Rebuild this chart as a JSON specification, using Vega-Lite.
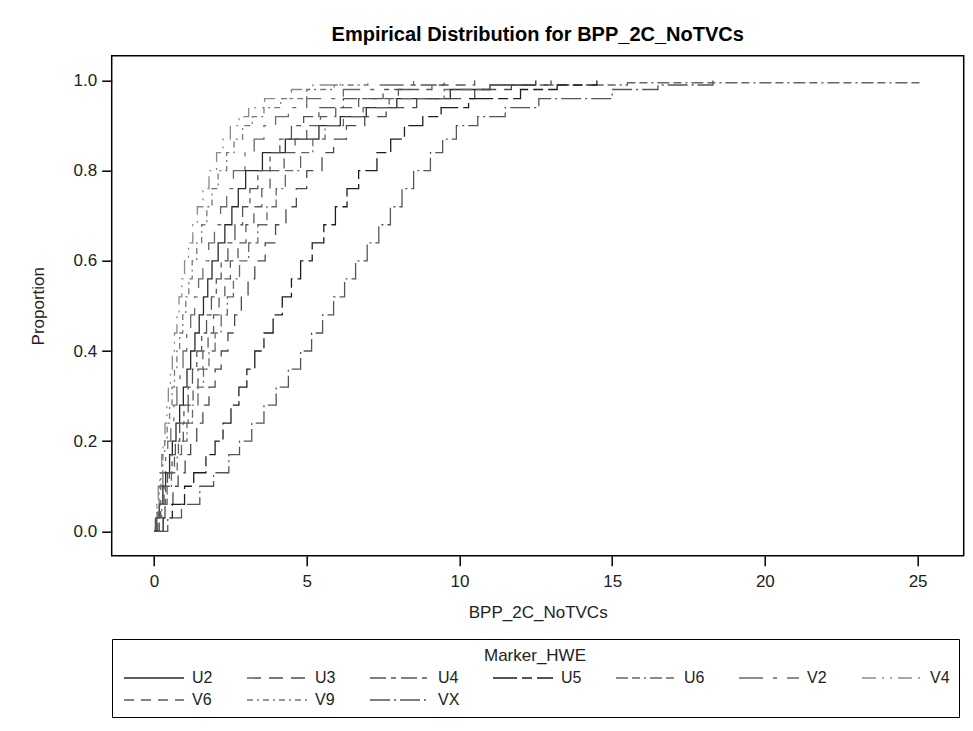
{
  "$schema": "https://vega.github.io/schema/vega-lite/v6.json",
  "width": 852,
  "height": 500,
  "autosize": "none",
  "padding": {"left": 111.7, "top": 55.7, "right": 9.3, "bottom": 175.3},
  "background": "white",
  "title": {"text": "Empirical Distribution for BPP_2C_NoTVCs", "font": "Liberation Sans", "fontSize": 20, "fontWeight": "bold", "color": "#000", "anchor": "middle", "offset": 11},
  "data": {"values": [
    {"m":"V4","x":0,"p":0},{"m":"V4","x":0.04,"p":0.03},{"m":"V4","x":0.09,"p":0.06},{"m":"V4","x":0.14,"p":0.1},{"m":"V4","x":0.19,"p":0.13},{"m":"V4","x":0.25,"p":0.17},{"m":"V4","x":0.3,"p":0.2},{"m":"V4","x":0.36,"p":0.24},{"m":"V4","x":0.42,"p":0.28},{"m":"V4","x":0.47,"p":0.32},{"m":"V4","x":0.54,"p":0.36},{"m":"V4","x":0.6,"p":0.4},{"m":"V4","x":0.67,"p":0.44},{"m":"V4","x":0.75,"p":0.48},{"m":"V4","x":0.82,"p":0.52},{"m":"V4","x":0.91,"p":0.56},{"m":"V4","x":1.0,"p":0.6},{"m":"V4","x":1.13,"p":0.64},{"m":"V4","x":1.27,"p":0.68},{"m":"V4","x":1.42,"p":0.72},{"m":"V4","x":1.6,"p":0.76},{"m":"V4","x":1.8,"p":0.8},{"m":"V4","x":2.05,"p":0.84},{"m":"V4","x":2.26,"p":0.87},{"m":"V4","x":2.5,"p":0.9},{"m":"V4","x":2.78,"p":0.92},{"m":"V4","x":3.1,"p":0.94},{"m":"V4","x":3.62,"p":0.96},{"m":"V4","x":4.5,"p":0.98},{"m":"V4","x":5.2,"p":0.99},{"m":"V4","x":6.1,"p":1.0},
    {"m":"V9","x":0,"p":0},{"m":"V9","x":0.05,"p":0.03},{"m":"V9","x":0.1,"p":0.06},{"m":"V9","x":0.17,"p":0.1},{"m":"V9","x":0.22,"p":0.13},{"m":"V9","x":0.29,"p":0.17},{"m":"V9","x":0.35,"p":0.2},{"m":"V9","x":0.43,"p":0.24},{"m":"V9","x":0.51,"p":0.28},{"m":"V9","x":0.59,"p":0.32},{"m":"V9","x":0.67,"p":0.36},{"m":"V9","x":0.75,"p":0.4},{"m":"V9","x":0.84,"p":0.44},{"m":"V9","x":0.94,"p":0.48},{"m":"V9","x":1.04,"p":0.52},{"m":"V9","x":1.14,"p":0.56},{"m":"V9","x":1.25,"p":0.6},{"m":"V9","x":1.4,"p":0.64},{"m":"V9","x":1.56,"p":0.68},{"m":"V9","x":1.73,"p":0.72},{"m":"V9","x":1.9,"p":0.76},{"m":"V9","x":2.1,"p":0.8},{"m":"V9","x":2.38,"p":0.84},{"m":"V9","x":2.62,"p":0.87},{"m":"V9","x":2.9,"p":0.9},{"m":"V9","x":3.22,"p":0.92},{"m":"V9","x":3.6,"p":0.94},{"m":"V9","x":4.15,"p":0.96},{"m":"V9","x":5.0,"p":0.98},{"m":"V9","x":5.9,"p":0.99},{"m":"V9","x":7.0,"p":1.0},
    {"m":"V2","x":0,"p":0},{"m":"V2","x":0.06,"p":0.03},{"m":"V2","x":0.13,"p":0.06},{"m":"V2","x":0.22,"p":0.1},{"m":"V2","x":0.29,"p":0.13},{"m":"V2","x":0.38,"p":0.17},{"m":"V2","x":0.45,"p":0.2},{"m":"V2","x":0.55,"p":0.24},{"m":"V2","x":0.65,"p":0.28},{"m":"V2","x":0.75,"p":0.32},{"m":"V2","x":0.85,"p":0.36},{"m":"V2","x":0.95,"p":0.4},{"m":"V2","x":1.07,"p":0.44},{"m":"V2","x":1.2,"p":0.48},{"m":"V2","x":1.33,"p":0.52},{"m":"V2","x":1.46,"p":0.56},{"m":"V2","x":1.6,"p":0.6},{"m":"V2","x":1.79,"p":0.64},{"m":"V2","x":1.98,"p":0.68},{"m":"V2","x":2.18,"p":0.72},{"m":"V2","x":2.38,"p":0.76},{"m":"V2","x":2.6,"p":0.8},{"m":"V2","x":2.98,"p":0.84},{"m":"V2","x":3.28,"p":0.87},{"m":"V2","x":3.6,"p":0.9},{"m":"V2","x":3.98,"p":0.92},{"m":"V2","x":4.4,"p":0.94},{"m":"V2","x":5.0,"p":0.96},{"m":"V2","x":6.2,"p":0.98},{"m":"V2","x":7.2,"p":0.99},{"m":"V2","x":8.5,"p":1.0},
    {"m":"U2","x":0,"p":0},{"m":"U2","x":0.08,"p":0.03},{"m":"U2","x":0.17,"p":0.06},{"m":"U2","x":0.29,"p":0.1},{"m":"U2","x":0.38,"p":0.13},{"m":"U2","x":0.51,"p":0.17},{"m":"U2","x":0.6,"p":0.2},{"m":"U2","x":0.72,"p":0.24},{"m":"U2","x":0.84,"p":0.28},{"m":"U2","x":0.96,"p":0.32},{"m":"U2","x":1.08,"p":0.36},{"m":"U2","x":1.2,"p":0.4},{"m":"U2","x":1.34,"p":0.44},{"m":"U2","x":1.48,"p":0.48},{"m":"U2","x":1.62,"p":0.52},{"m":"U2","x":1.76,"p":0.56},{"m":"U2","x":1.9,"p":0.6},{"m":"U2","x":2.1,"p":0.64},{"m":"U2","x":2.32,"p":0.68},{"m":"U2","x":2.55,"p":0.72},{"m":"U2","x":2.76,"p":0.76},{"m":"U2","x":3.0,"p":0.8},{"m":"U2","x":3.55,"p":0.84},{"m":"U2","x":4.3,"p":0.87},{"m":"U2","x":5.4,"p":0.9},{"m":"U2","x":6.1,"p":0.92},{"m":"U2","x":6.95,"p":0.94},{"m":"U2","x":7.95,"p":0.96},{"m":"U2","x":9.7,"p":0.98},{"m":"U2","x":11.0,"p":0.99},{"m":"U2","x":12.5,"p":1.0},
    {"m":"U4","x":0,"p":0},{"m":"U4","x":0.09,"p":0.03},{"m":"U4","x":0.19,"p":0.06},{"m":"U4","x":0.33,"p":0.1},{"m":"U4","x":0.44,"p":0.13},{"m":"U4","x":0.59,"p":0.17},{"m":"U4","x":0.7,"p":0.2},{"m":"U4","x":0.84,"p":0.24},{"m":"U4","x":0.98,"p":0.28},{"m":"U4","x":1.12,"p":0.32},{"m":"U4","x":1.26,"p":0.36},{"m":"U4","x":1.4,"p":0.4},{"m":"U4","x":1.56,"p":0.44},{"m":"U4","x":1.72,"p":0.48},{"m":"U4","x":1.88,"p":0.52},{"m":"U4","x":2.04,"p":0.56},{"m":"U4","x":2.2,"p":0.6},{"m":"U4","x":2.42,"p":0.64},{"m":"U4","x":2.65,"p":0.68},{"m":"U4","x":2.9,"p":0.72},{"m":"U4","x":3.14,"p":0.76},{"m":"U4","x":3.4,"p":0.8},{"m":"U4","x":3.8,"p":0.84},{"m":"U4","x":4.12,"p":0.87},{"m":"U4","x":4.5,"p":0.9},{"m":"U4","x":4.9,"p":0.92},{"m":"U4","x":5.4,"p":0.94},{"m":"U4","x":6.2,"p":0.96},{"m":"U4","x":7.5,"p":0.98},{"m":"U4","x":8.4,"p":0.99},{"m":"U4","x":9.5,"p":1.0},
    {"m":"V6","x":0,"p":0},{"m":"V6","x":0.1,"p":0.03},{"m":"V6","x":0.22,"p":0.06},{"m":"V6","x":0.38,"p":0.1},{"m":"V6","x":0.5,"p":0.13},{"m":"V6","x":0.67,"p":0.17},{"m":"V6","x":0.8,"p":0.2},{"m":"V6","x":0.96,"p":0.24},{"m":"V6","x":1.12,"p":0.28},{"m":"V6","x":1.28,"p":0.32},{"m":"V6","x":1.44,"p":0.36},{"m":"V6","x":1.6,"p":0.4},{"m":"V6","x":1.77,"p":0.44},{"m":"V6","x":1.95,"p":0.48},{"m":"V6","x":2.13,"p":0.52},{"m":"V6","x":2.32,"p":0.56},{"m":"V6","x":2.5,"p":0.6},{"m":"V6","x":2.75,"p":0.64},{"m":"V6","x":3.01,"p":0.68},{"m":"V6","x":3.27,"p":0.72},{"m":"V6","x":3.53,"p":0.76},{"m":"V6","x":3.8,"p":0.8},{"m":"V6","x":4.26,"p":0.84},{"m":"V6","x":4.62,"p":0.87},{"m":"V6","x":5.0,"p":0.9},{"m":"V6","x":5.45,"p":0.92},{"m":"V6","x":5.95,"p":0.94},{"m":"V6","x":6.7,"p":0.96},{"m":"V6","x":8.0,"p":0.98},{"m":"V6","x":9.1,"p":0.99},{"m":"V6","x":10.5,"p":1.0},
    {"m":"U6","x":0,"p":0},{"m":"U6","x":0.12,"p":0.03},{"m":"U6","x":0.25,"p":0.06},{"m":"U6","x":0.43,"p":0.1},{"m":"U6","x":0.57,"p":0.13},{"m":"U6","x":0.76,"p":0.17},{"m":"U6","x":0.9,"p":0.2},{"m":"U6","x":1.08,"p":0.24},{"m":"U6","x":1.26,"p":0.28},{"m":"U6","x":1.44,"p":0.32},{"m":"U6","x":1.62,"p":0.36},{"m":"U6","x":1.8,"p":0.4},{"m":"U6","x":2.0,"p":0.44},{"m":"U6","x":2.2,"p":0.48},{"m":"U6","x":2.4,"p":0.52},{"m":"U6","x":2.6,"p":0.56},{"m":"U6","x":2.8,"p":0.6},{"m":"U6","x":3.1,"p":0.64},{"m":"U6","x":3.4,"p":0.68},{"m":"U6","x":3.7,"p":0.72},{"m":"U6","x":4.0,"p":0.76},{"m":"U6","x":4.3,"p":0.8},{"m":"U6","x":4.8,"p":0.84},{"m":"U6","x":5.2,"p":0.87},{"m":"U6","x":5.6,"p":0.9},{"m":"U6","x":6.2,"p":0.92},{"m":"U6","x":6.85,"p":0.94},{"m":"U6","x":7.7,"p":0.96},{"m":"U6","x":9.5,"p":0.98},{"m":"U6","x":11.0,"p":0.99},{"m":"U6","x":15.5,"p":0.995},{"m":"U6","x":25.1,"p":1.0},
    {"m":"U3","x":0,"p":0},{"m":"U3","x":0.17,"p":0.03},{"m":"U3","x":0.36,"p":0.06},{"m":"U3","x":0.62,"p":0.1},{"m":"U3","x":0.79,"p":0.13},{"m":"U3","x":1.02,"p":0.17},{"m":"U3","x":1.2,"p":0.2},{"m":"U3","x":1.4,"p":0.24},{"m":"U3","x":1.6,"p":0.28},{"m":"U3","x":1.8,"p":0.32},{"m":"U3","x":2.0,"p":0.36},{"m":"U3","x":2.2,"p":0.4},{"m":"U3","x":2.42,"p":0.44},{"m":"U3","x":2.64,"p":0.48},{"m":"U3","x":2.86,"p":0.52},{"m":"U3","x":3.08,"p":0.56},{"m":"U3","x":3.3,"p":0.6},{"m":"U3","x":3.64,"p":0.64},{"m":"U3","x":3.98,"p":0.68},{"m":"U3","x":4.32,"p":0.72},{"m":"U3","x":4.66,"p":0.76},{"m":"U3","x":5.0,"p":0.8},{"m":"U3","x":5.5,"p":0.84},{"m":"U3","x":5.88,"p":0.87},{"m":"U3","x":6.3,"p":0.9},{"m":"U3","x":6.9,"p":0.92},{"m":"U3","x":7.6,"p":0.94},{"m":"U3","x":8.6,"p":0.96},{"m":"U3","x":10.5,"p":0.98},{"m":"U3","x":11.7,"p":0.99},{"m":"U3","x":13.0,"p":1.0},
    {"m":"U5","x":0,"p":0},{"m":"U5","x":0.3,"p":0.03},{"m":"U5","x":0.6,"p":0.06},{"m":"U5","x":1.0,"p":0.1},{"m":"U5","x":1.3,"p":0.13},{"m":"U5","x":1.7,"p":0.17},{"m":"U5","x":2.0,"p":0.2},{"m":"U5","x":2.26,"p":0.24},{"m":"U5","x":2.52,"p":0.28},{"m":"U5","x":2.78,"p":0.32},{"m":"U5","x":3.04,"p":0.36},{"m":"U5","x":3.3,"p":0.4},{"m":"U5","x":3.6,"p":0.44},{"m":"U5","x":3.9,"p":0.48},{"m":"U5","x":4.2,"p":0.52},{"m":"U5","x":4.5,"p":0.56},{"m":"U5","x":4.8,"p":0.6},{"m":"U5","x":5.18,"p":0.64},{"m":"U5","x":5.56,"p":0.68},{"m":"U5","x":5.94,"p":0.72},{"m":"U5","x":6.32,"p":0.76},{"m":"U5","x":6.7,"p":0.8},{"m":"U5","x":7.3,"p":0.84},{"m":"U5","x":7.75,"p":0.87},{"m":"U5","x":8.2,"p":0.9},{"m":"U5","x":8.8,"p":0.92},{"m":"U5","x":9.4,"p":0.94},{"m":"U5","x":10.3,"p":0.96},{"m":"U5","x":12.0,"p":0.98},{"m":"U5","x":13.2,"p":0.99},{"m":"U5","x":14.5,"p":1.0},
    {"m":"VX","x":0,"p":0},{"m":"VX","x":0.45,"p":0.03},{"m":"VX","x":0.9,"p":0.06},{"m":"VX","x":1.5,"p":0.1},{"m":"VX","x":1.95,"p":0.13},{"m":"VX","x":2.45,"p":0.17},{"m":"VX","x":2.8,"p":0.2},{"m":"VX","x":3.2,"p":0.24},{"m":"VX","x":3.6,"p":0.28},{"m":"VX","x":4.0,"p":0.32},{"m":"VX","x":4.4,"p":0.36},{"m":"VX","x":4.8,"p":0.4},{"m":"VX","x":5.16,"p":0.44},{"m":"VX","x":5.52,"p":0.48},{"m":"VX","x":5.88,"p":0.52},{"m":"VX","x":6.24,"p":0.56},{"m":"VX","x":6.6,"p":0.6},{"m":"VX","x":6.98,"p":0.64},{"m":"VX","x":7.36,"p":0.68},{"m":"VX","x":7.74,"p":0.72},{"m":"VX","x":8.12,"p":0.76},{"m":"VX","x":8.5,"p":0.8},{"m":"VX","x":9.05,"p":0.84},{"m":"VX","x":9.45,"p":0.87},{"m":"VX","x":9.9,"p":0.9},{"m":"VX","x":10.6,"p":0.92},{"m":"VX","x":11.5,"p":0.94},{"m":"VX","x":12.6,"p":0.96},{"m":"VX","x":15.0,"p":0.98},{"m":"VX","x":16.5,"p":0.99},{"m":"VX","x":18.3,"p":1.0}
  ]},
  "mark": {"type": "line", "interpolate": "step-after", "strokeWidth": 1.3, "clip": true},
  "encoding": {
    "x": {"field": "x", "type": "quantitative", "title": "BPP_2C_NoTVCs",
      "scale": {"domain": [-1.385, 26.51], "nice": false, "zero": false},
      "axis": {"values": [0, 5, 10, 15, 20, 25], "format": "d", "grid": false, "domain": false, "tickSize": 10, "tickColor": "#000", "tickWidth": 1.5, "labelPadding": 8, "titlePadding": 15}},
    "y": {"field": "p", "type": "quantitative", "title": "Proportion",
      "scale": {"domain": [-0.054, 1.055], "nice": false, "zero": false},
      "axis": {"values": [0, 0.2, 0.4, 0.6, 0.8, 1.0], "format": ".1f", "grid": false, "domain": false, "tickSize": 10, "tickColor": "#000", "tickWidth": 1.5, "labelPadding": 5, "titlePadding": 26}},
    "color": {"field": "m", "type": "nominal", "title": "Marker_HWE",
      "scale": {"domain": ["U2","U3","U4","U5","U6","V2","V4","V6","V9","VX"],
                "range": ["#2a2a2a","#4a4a4a","#555555","#1e1e1e","#666666","#6a6a6a","#8a8a8a","#5a5a5a","#777777","#555555"]}},
    "strokeDash": {"field": "m", "type": "nominal", "title": "Marker_HWE",
      "scale": {"domain": ["U2","U3","U4","U5","U6","V2","V4","V6","V9","VX"],
                "range": [[1,0],[14,8],[16,5,5,5],[24,5,10,5],[12,4,8,4,2,4],[24,10,4,10],[14,6,2,6,2,6],[10,7],[6,4,2,4],[20,4,2,4]]}}
  },
  "config": {
    "view": {"stroke": "#000", "strokeWidth": 1.5},
    "font": "Liberation Sans",
    "axis": {"labelFont": "Liberation Sans", "labelFontSize": 17, "labelColor": "#222", "titleFont": "Liberation Sans", "titleFontSize": 17, "titleFontWeight": "normal", "titleColor": "#222"},
    "legend": {"orient": "none", "legendX": 0.3, "legendY": 583.3, "direction": "horizontal", "columns": 7,
      "symbolType": "M-1,0H11", "symbolSize": 100, "symbolStrokeWidth": 1.3,
      "labelFont": "Liberation Sans", "labelFontSize": 16, "labelColor": "#222", "labelOffset": 55,
      "titleFont": "Liberation Sans", "titleFontSize": 17, "titleFontWeight": "normal", "titleColor": "#222", "titleAnchor": "middle", "titlePadding": 5,
      "strokeColor": "#000", "padding": 9, "columnPadding": 30, "rowPadding": 6, "gridAlign": "all"}
  }
}
